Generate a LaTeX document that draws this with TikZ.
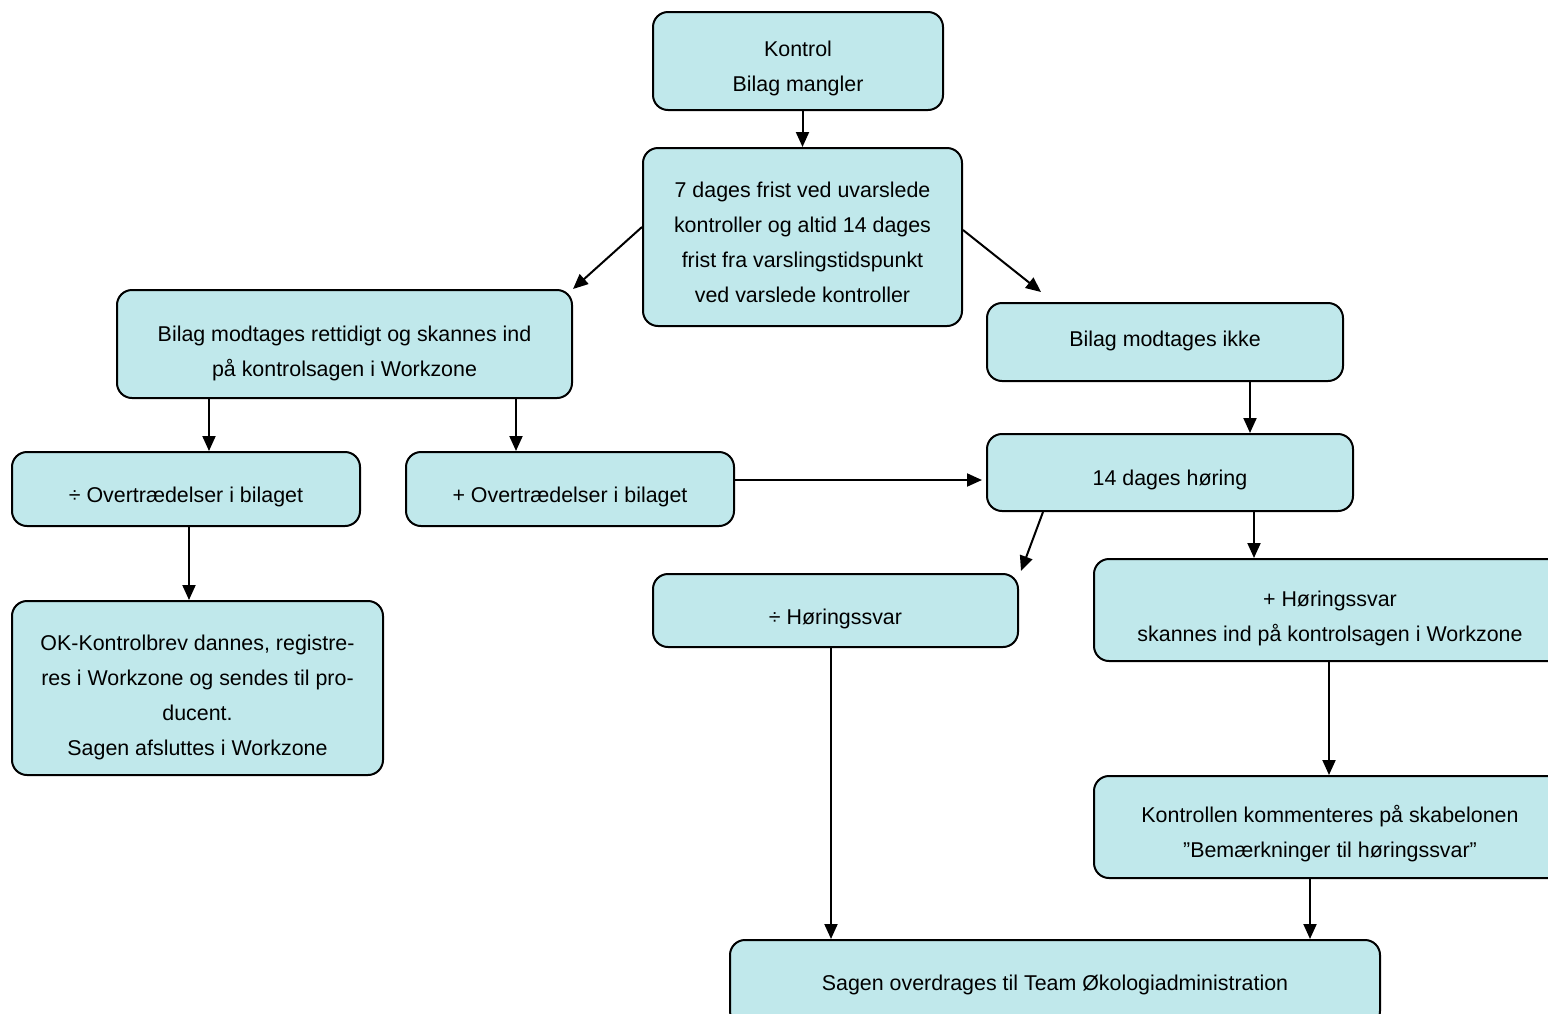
\documentclass[tikz,border=0pt]{standalone}
\usepackage{fontspec}
\setmainfont{Liberation Sans}
\usetikzlibrary{arrows.meta,calc}
\definecolor{boxfill}{HTML}{C0E8EB}
\begin{document}
\begin{tikzpicture}[x=0.5pt,y=-0.5pt,
 box/.style={draw=black, fill=boxfill, line width=1pt, rounded corners=7.5pt, inner sep=0pt},
 txt/.style={align=center, inner sep=0pt, font=\fontsize{10.7}{17.5}\selectfont},
 arr/.style={line width=1pt, -{Triangle[length=7.5pt,width=6.5pt]}}]
\path[use as bounding box] (0,0) rectangle (1548,1013);
\clip (0,0) rectangle (1548,1013);

% boxes
\node[box, minimum width=145pt, minimum height=49pt] (b1) at (798,61) {};
\node[box, minimum width=159.5pt, minimum height=89pt] (b2) at (802.5,237) {};
\node[box, minimum width=227.5pt, minimum height=54pt] (b3) at (344.5,344) {};
\node[box, minimum width=178pt, minimum height=39pt] (b4) at (1165,342) {};
\node[box, minimum width=174pt, minimum height=37pt] (b5) at (186,489) {};
\node[box, minimum width=164pt, minimum height=37pt] (b6) at (570,489) {};
\node[box, minimum width=183pt, minimum height=38.5pt] (b7) at (1170,472.5) {};
\node[box, minimum width=185.5pt, minimum height=87pt] (b8) at (197.5,688) {};
\node[box, minimum width=182.5pt, minimum height=36.5pt] (b9) at (835.5,610.5) {};
\node[box, minimum width=236pt, minimum height=51pt] (b10) at (1330,610) {};
\node[box, minimum width=236pt, minimum height=51pt] (b11) at (1330,827) {};
\node[box, minimum width=325pt, minimum height=43pt] (b12) at (1055,983) {};

% texts
\node[txt] (t1) at ($(b1.center)+(0,7.5)$) {Kontrol\\Bilag mangler};
\node[txt] (t2) at ($(b2.center)+(0,5.5)$) {7 dages frist ved uvarslede\\kontroller og altid 14 dages\\frist fra varslingstidspunkt\\ved varslede kontroller};
\node[txt] (t3) at ($(b3.center)+(0,9)$) {Bilag modtages rettidigt og skannes ind\\på kontrolsagen i Workzone};
\node[txt] (t4) at ($(b4.center)+(0,-1)$) {Bilag modtages ikke};
\node[txt] (t5) at ($(b5.center)+(0,8)$) {÷ Overtrædelser i bilaget};
\node[txt] (t6) at ($(b6.center)+(0,8)$) {+ Overtrædelser i bilaget};
\node[txt] (t7) at ($(b7.center)+(0,7)$) {14 dages høring};
\node[txt] (t8) at ($(b8.center)+(0,9.5)$) {OK-Kontrolbrev dannes, registre-\\res i Workzone og sendes til pro-\\ducent.\\Sagen afsluttes i Workzone};
\node[txt] (t9) at ($(b9.center)+(0,8)$) {÷ Høringssvar};
\node[txt] (t10) at ($(b10.center)+(0,8.5)$) {+ Høringssvar\\skannes ind på kontrolsagen i Workzone};
\node[txt] (t11) at ($(b11.center)+(0,7)$) {Kontrollen kommenteres på skabelonen\\”Bemærkninger til høringssvar”};
\node[txt] (t12) at ($(b12.center)+(0,2)$) {Sagen overdrages til Team Økologiadministration};

% connector coordinates
\coordinate (c12) at (b1.south -| b2.north);
\coordinate (c23a) at ($(b2.west)+(0,-10)$);
\coordinate (c24a) at ($(b2.east)+(0,-7)$);
\coordinate (c24b) at ($(b4.north west)+(55,-10)$);
\coordinate (c35) at ($(b3.south)+(-135.5,0)$);
\coordinate (c36) at ($(b3.south)+(171.5,0)$);
\coordinate (c47) at ($(b4.south)+(85,0)$);
\coordinate (c67a) at ($(b6.east)+(0,-9)$);
\coordinate (c67b) at ($(c67a -| b7.west)+(-4,0)$);
\coordinate (c58) at ($(b5.south)+(3,0)$);
\coordinate (c79a) at ($(b7.south west)+(57,0)$);
\coordinate (c79b) at ($(b9.north east)+(2,-2)$);
\coordinate (c710) at ($(b7.south)+(84,0)$);
\coordinate (c912) at ($(b9.south)+(-4.5,0)$);
\coordinate (c1011) at ($(b10.south)+(-1,0)$);
\coordinate (c1112) at ($(b11.south)+(-20,0)$);

% connectors
\draw[arr] (c12) -- (b2.north);
\draw[arr] (c23a) -- (b3.north east);
\draw[arr] (c24a) -- (c24b);
\draw[arr] (c35) -- (c35 |- b5.north);
\draw[arr] (c36) -- (c36 |- b6.north);
\draw[arr] (c47) -- (c47 |- b7.north);
\draw[arr] (c67a) -- (c67b);
\draw[arr] (c58) -- (c58 |- b8.north);
\draw[arr] (c79a) -- (c79b);
\draw[arr] (c710) -- (c710 |- b10.north);
\draw[arr] (c912) -- (c912 |- b12.north);
\draw[arr] (c1011) -- (c1011 |- b11.north);
\draw[arr] (c1112) -- (c1112 |- b12.north);
\end{tikzpicture}
\end{document}
